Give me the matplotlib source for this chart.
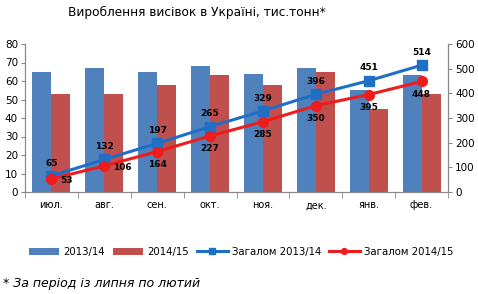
import matplotlib
matplotlib.use("Agg")
import matplotlib.pyplot as plt
import numpy as np

months = ["июл.", "авг.", "сен.", "окт.", "ноя.", "дек.", "янв.", "фев."]
bars_1314 = [65, 67, 65, 68, 64, 67, 55, 63]
bars_1415 = [53, 53, 58, 63, 58, 65, 45, 53]
cum_1314 = [65, 132, 197, 265, 329, 396, 451, 514]
cum_1415 = [53, 106, 164, 227, 285, 350, 395, 448]

plt.rcParams['font.family'] = ['DejaVu Sans']
fig = plt.figure(figsize=(4.78, 2.94), dpi=100)
ax = fig.add_axes([25/478, 1 - 192/294, 423/478, 148/294])
ax2 = ax.twinx()

x = np.arange(len(months))
w = 0.36
c_b1 = "#4f81bd"
c_b2 = "#c0504d"
c_l1 = "#1f6fc6"
c_l2 = "#ee1c1c"
ax.bar(x - w/2, bars_1314, w, color=c_b1, label="2013/14")
ax.bar(x + w/2, bars_1415, w, color=c_b2, label="2014/15")
l1, = ax2.plot(x, cum_1314, color=c_l1, lw=2.2, marker="s", ms=7, label="Загалом 2013/14")
l2, = ax2.plot(x, cum_1415, color=c_l2, lw=2.2, marker="o", ms=7, label="Загалом 2014/15")

for i, v in enumerate(cum_1314):
    ax2.annotate(str(v), (x[i], v), xytext=(0, 6), textcoords="offset points",
                 ha="center", va="bottom", fontsize=6.5, fontweight="bold")
for i, v in enumerate(cum_1415):
    if i < 2:
        ax2.annotate(str(v), (x[i], v), xytext=(6, -1), textcoords="offset points",
                     ha="left", va="center", fontsize=6.5, fontweight="bold")
    else:
        ax2.annotate(str(v), (x[i], v), xytext=(0, -6), textcoords="offset points",
                     ha="center", va="top", fontsize=6.5, fontweight="bold")

ax.set_xlim(-0.5, len(months) - 0.5)
ax.set_ylim(0, 80)
ax2.set_ylim(0, 600)
ax.set_yticks(range(0, 81, 10))
ax2.set_yticks(range(0, 601, 100))
ax.set_xticks(x)
ax.set_xticklabels(months)
ax.set_xticks(np.arange(-0.5, len(months)), minor=True)
ax.tick_params(axis="x", which="major", length=0, pad=6, labelsize=7)
ax.tick_params(axis="x", which="minor", length=4, color="#888888")
ax.tick_params(axis="y", labelsize=7.5, color="#888888", length=3, pad=2)
ax2.tick_params(axis="y", labelsize=7.5, color="#888888", length=3, pad=2)

for a in (ax, ax2):
    a.spines["top"].set_visible(False)
    for s in ("left", "right", "bottom"):
        a.spines[s].set_color("#888888")

fig.text(0.411, 0.958, "Вироблення висівок в Україні, тис.тонн*", ha="center", va="center", fontsize=8.7)

h1, lb1 = ax.get_legend_handles_labels()
fig.legend(h1 + [l1, l2], lb1 + [l1.get_label(), l2.get_label()], loc="center",
           bbox_to_anchor=(0.504, 0.143), ncol=4, frameon=False, fontsize=7.3,
           handlelength=3.0, handletextpad=0.4, columnspacing=0.8, markerscale=0.6)
fig.text(0.006, 0.035, "* За період із липня по лютий", ha="left", va="center",
         fontsize=9, style="italic")

fig.savefig("out.png", dpi=100)
